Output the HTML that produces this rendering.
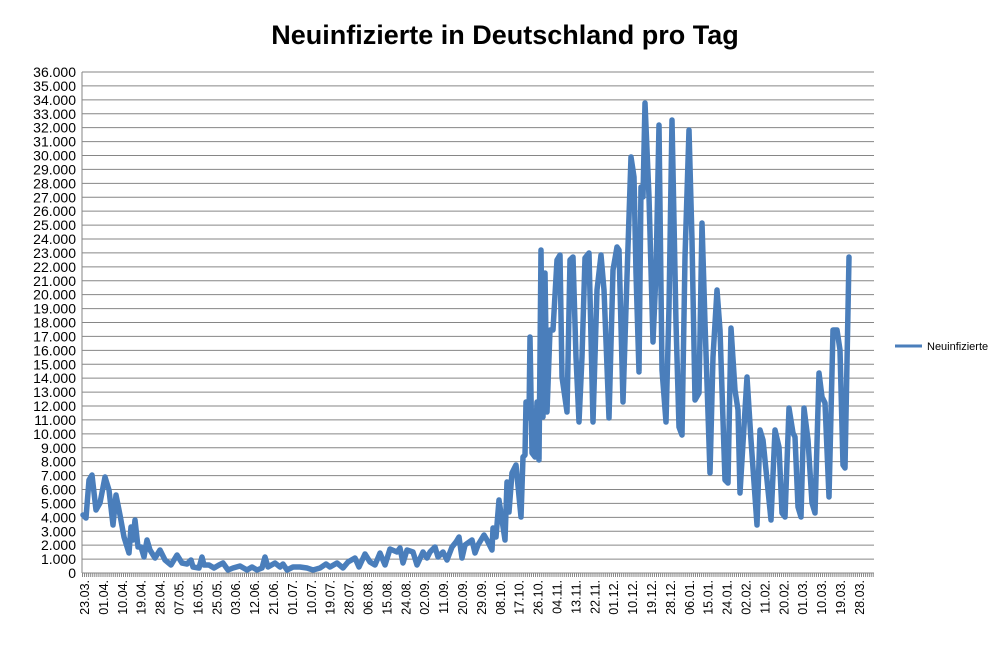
<!DOCTYPE html>
<html><head><meta charset="utf-8"><style>
body{margin:0;background:#fff}
svg text{font-family:"Liberation Sans",sans-serif}
</style></head><body>
<svg width="1004" height="644" xmlns="http://www.w3.org/2000/svg">
<text x="505" y="44" text-anchor="middle" font-size="27" font-weight="bold">Neuinfizierte in Deutschland pro Tag</text>
<g id="grid" stroke="#868686" stroke-width="1"></g>
<g id="yl" font-size="14" text-anchor="end"></g>
<line x1="82" y1="72" x2="82" y2="573" stroke="#868686"/>
<line x1="82" y1="575" x2="874" y2="575" stroke="#868686" stroke-width="4" stroke-dasharray="1 1.05"/>
<g id="xl" font-size="12.5"></g>
<polyline id="ser" fill="none" stroke="#4a7ebb" stroke-width="5.5" stroke-linejoin="round" stroke-linecap="round" points="83,515 86,518 89,480 92,475 96,510 100,503 105,477 109,490 113,525 116,495 120,515 124,537 129,553 131,527 133,540 135,520 138,547 141,547 144,557 147,540 150,550 155,558 160,550 165,560 171,565 177,555 182,563 187,564 191,560 193,567 199,568 202,557 204,565 209,565 214,568 219,565 223,563 228,570 233,568 240,566 247,570 252,567 257,570 262,568 265,557 268,567 275,563 280,567 283,564 287,570 293,567 300,567 307,568 313,570 320,568 326,564 330,567 337,563 343,568 348,562 355,558 359,567 365,554 370,562 375,565 380,553 385,565 390,549 397,552 400,548 403,563 407,550 413,552 417,565 423,552 427,558 430,552 435,547 438,557 443,552 447,560 452,547 456,542 459,537 462,558 465,545 472,540 475,553 478,545 484,535 487,540 492,550 493,528 496,537 499,500 505,540 507,482 509,512 512,473 516,465 521,517 523,457 525,455 526,402 529,418 530,337 532,453 535,457 537,402 539,460 541,250 543,417 545,273 547,412 550,330 553,330 557,260 560,255 562,377 567,412 570,260 573,257 576,357 579,422 582,357 585,258 589,253 593,422 597,290 601,255 604,290 609,418 613,270 617,247 619,250 623,402 627,277 631,157 634,177 636,273 639,372 641,187 643,197 645,103 649,197 653,342 656,273 659,125 662,370 666,422 669,307 672,120 676,323 679,427 682,435 685,257 689,130 692,240 695,400 699,393 702,223 705,323 710,473 713,357 717,290 720,330 725,480 728,483 731,328 735,390 738,410 740,493 747,377 751,440 757,525 760,430 763,440 771,520 775,430 779,447 782,513 785,517 789,408 793,433 795,437 798,507 801,517 804,408 808,440 812,503 815,513 819,373 822,397 825,403 829,497 833,330 837,330 840,350 843,465 845,468 849,257"/>
<line x1="895" y1="346" x2="922" y2="346" stroke="#4a7ebb" stroke-width="3"/>
<text x="927" y="350" font-size="11">Neuinfizierte</text>
</svg>
<script>
var ns="http://www.w3.org/2000/svg";
var g=document.getElementById('grid'),yl=document.getElementById('yl'),xl=document.getElementById('xl');
for(var k=0;k<=36;k++){var y=573-k*501/36;
var l=document.createElementNS(ns,'line');l.setAttribute('x1',82);l.setAttribute('x2',874);l.setAttribute('y1',y);l.setAttribute('y2',y);g.appendChild(l);
var t=document.createElementNS(ns,'text');t.setAttribute('x',76);t.setAttribute('y',y+5);t.textContent=k==0?'0':(k+'.000');yl.appendChild(t);}
var d="23.03. 01.04. 10.04. 19.04. 28.04. 07.05. 16.05. 25.05. 03.06. 12.06. 21.06. 01.07. 10.07. 19.07. 28.07. 06.08. 15.08. 24.08. 02.09. 11.09. 20.09. 29.09. 08.10. 17.10. 26.10. 04.11. 13.11. 22.11. 01.12. 10.12. 19.12. 28.12. 06.01. 15.01. 24.01. 02.02. 11.02. 20.02. 01.03. 10.03. 19.03. 28.03.".split(' ');
for(var i=0;i<d.length;i++){var x=85+i*18.9+4;var t=document.createElementNS(ns,'text');
t.setAttribute('transform','translate('+x+',580) rotate(-90)');t.setAttribute('text-anchor','end');t.textContent=d[i];xl.appendChild(t);}
</script>
</body></html>
